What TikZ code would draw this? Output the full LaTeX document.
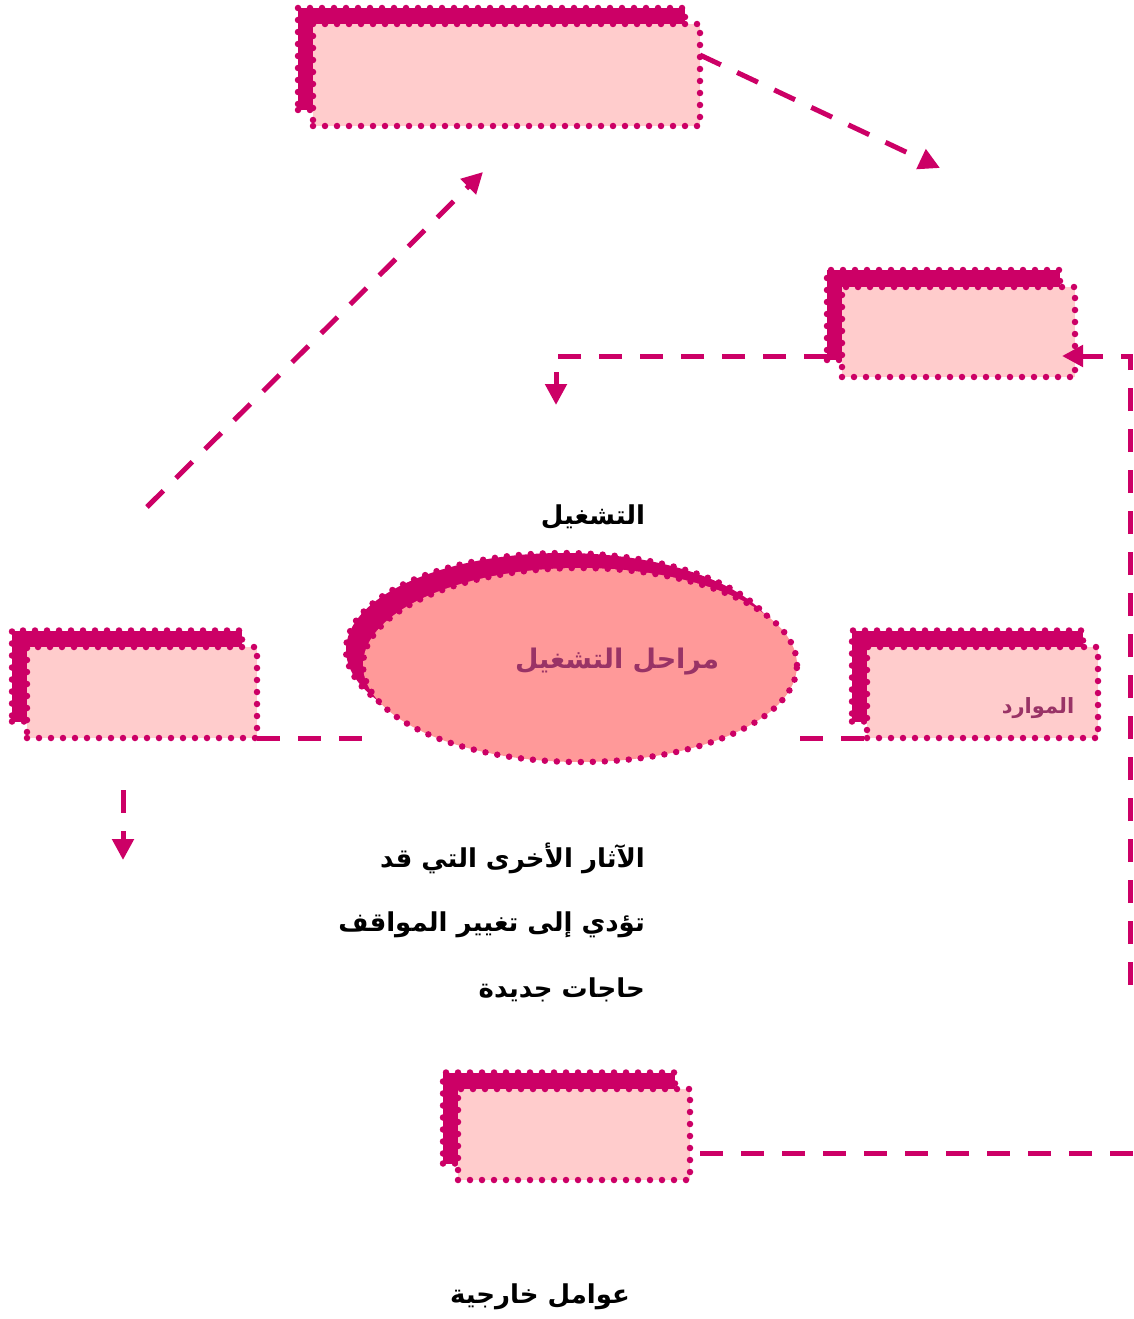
\documentclass[tikz,border=0pt]{standalone}
\usepackage{fontspec}
\TeXXeTstate=1
\newfontfamily\arabicfont[Script=Arabic]{DejaVu Sans}
\usetikzlibrary{arrows.meta,shapes.geometric}
\definecolor{mag}{HTML}{CC0066}
\definecolor{lpink}{HTML}{FFCCCC}
\definecolor{epink}{HTML}{FF9999}
\definecolor{txtp}{HTML}{993366}
\tikzset{
  dotborder/.style={draw=mag, line width=6.5pt, dash pattern=on 0pt off 12pt, line cap=round},
  mainbox/.style={dotborder, fill=lpink, rectangle, inner sep=0pt, outer sep=0pt},
  shadbox/.style={dotborder, fill=mag, rectangle, inner sep=0pt, outer sep=0pt},
  conn/.style={draw=mag, line width=5pt, dash pattern=on 23pt off 18pt},
  tip/.style={-{Triangle[length=21pt,width=21pt]}},
  lbl/.style={font=\arabicfont\bfseries\fontsize{26}{30}\selectfont, text=black, inner sep=0pt},
}
\begin{document}
\begin{tikzpicture}[x=1pt,y=-1pt]
\useasboundingbox (0,0) rectangle (1133,1319);
% box 1
\node[shadbox, minimum width=387pt, minimum height=102pt] (b1s) at (491.5,59) {};
\node[mainbox, minimum width=387pt, minimum height=102pt] (b1) at (506.5,75) {};
% box 2
\node[shadbox, minimum width=233pt, minimum height=90pt] (b2s) at (943.5,315) {};
\node[mainbox, minimum width=233pt, minimum height=90pt] (b2) at (958.5,332) {};
% box 3
\node[shadbox, minimum width=230pt, minimum height=91pt] (b3s) at (127,676) {};
\node[mainbox, minimum width=230pt, minimum height=91pt] (b3) at (142,692.5) {};
% box 4
\node[shadbox, minimum width=231pt, minimum height=91pt] (b4s) at (967.5,676) {};
\node[mainbox, minimum width=231pt, minimum height=91pt] (b4) at (982.5,692.5) {};
\node[font=\arabicfont\bfseries\fontsize{21}{24}\selectfont, text=txtp, inner sep=0pt] (res) at (1038,708) {\beginR الموارد\endR};
% box 5
\node[shadbox, minimum width=232pt, minimum height=91pt] (b5s) at (559,1118) {};
\node[mainbox, minimum width=232pt, minimum height=91pt] (b5) at (574,1134.5) {};
% ellipse
\node[ellipse, dotborder, fill=mag, minimum width=434pt, minimum height=194pt, inner sep=0pt, outer sep=0pt] (es) at (563,650) {};
\node[ellipse, dotborder, fill=epink, minimum width=434pt, minimum height=194pt, inner sep=0pt, outer sep=0pt] (el) at (580,665) {};
\node[font=\arabicfont\bfseries\fontsize{27}{30}\selectfont, text=txtp, inner sep=0pt] (eltxt) at (617,662) {\beginR مراحل التشغيل\endR};
% texts
\node[lbl] (t1) at (593,517) {\beginR التشغيل\endR};
\node[lbl, anchor=east] (t2) at (645,858) {\beginR الآثار الأخرى التي قد\endR};
\node[lbl, anchor=east] (t3) at (645,925) {\beginR تؤدي إلى تغيير المواقف\endR};
\node[lbl, anchor=east] (t4) at (645,990) {\beginR حاجات جديدة\endR};
\node[lbl] (t5) at (540,1297) {\beginR عوامل خارجية\endR};
% free coordinates
\coordinate (p1) at (940,168);
\coordinate (p2s) at (147,507);
\coordinate (p2e) at (483,172);
\coordinate (p3) at (556,405);
\coordinate (p4) at (1130,985);
\coordinate (p5) at (1133,1153);
\coordinate (p6s) at (123,790);
\coordinate (p6e) at (123,860);
\coordinate (p7) at (365,738);
\coordinate (p8) at (800,738);
% connectors
\draw[conn, tip] ([yshift=20pt]b1.east) -- (p1);
\draw[conn, tip] (p2s) -- (p2e);
\draw[conn, tip] ([yshift=4pt]b2s.south west) -| (p3);
\draw[conn, tip] (p4) |- ([xshift=-13pt,yshift=-24pt]b2.east);
\draw[conn] ([xshift=10pt,yshift=-18.5pt]b5.east) -- (p5);
\draw[conn] (b3.south east) -- (p7);
\draw[conn] (p8) -- (b4.south west);
\draw[conn, tip] (p6s) -- (p6e);
\end{tikzpicture}
\end{document}
